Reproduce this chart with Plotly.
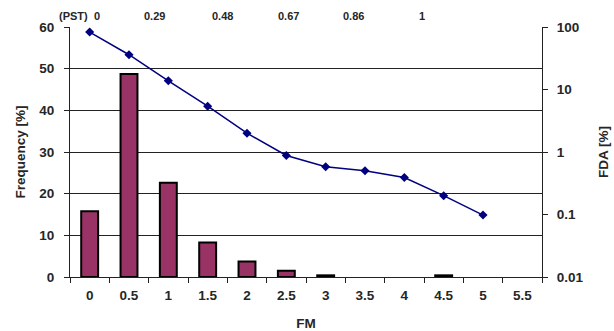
import plotly.graph_objects as go

categories = ["0", "0.5", "1", "1.5", "2", "2.5", "3", "3.5", "4", "4.5", "5", "5.5"]
frequency = [15.8, 48.7, 22.6, 8.3, 3.7, 1.5, 0.4, None, None, 0.4, None, None]
fda_x = ["0", "0.5", "1", "1.5", "2", "2.5", "3", "3.5", "4", "4.5", "5"]
fda = [83, 36, 13.8, 5.4, 2.0, 0.88, 0.58, 0.50, 0.39, 0.20, 0.098]
pst_labels = ["(PST)", "0", "0.29", "0.48", "0.67", "0.86", "1"]
pst_pos = [0.008, 0.057, 0.18, 0.324, 0.462, 0.6, 0.746]

fam = "Liberation Sans, Arial, sans-serif"
txt = "#262626"
tickfont = dict(family=fam, size=13.5, color=txt, weight="bold")
titlefont = dict(family=fam, size=13.5, color=txt, weight="bold")

fig = go.Figure()
fig.add_trace(go.Bar(
    x=categories, y=frequency, width=0.43,
    marker=dict(color="#993366", line=dict(color="#000000", width=2)),
    yaxis="y", showlegend=False,
))
fig.add_trace(go.Scatter(
    x=fda_x, y=fda, mode="lines+markers", yaxis="y2",
    line=dict(color="#000080", width=1.5),
    marker=dict(symbol="diamond", size=7, color="#000080"),
    showlegend=False,
))

for lab, px in zip(pst_labels, pst_pos):
    fig.add_annotation(text=lab, x=px, y=1, xref="paper", yref="paper",
                       xanchor="center", yanchor="bottom", yshift=3,
                       showarrow=False,
                       font=dict(size=11, color=txt, family=fam, weight="bold"))

fig.update_layout(
    width=614, height=331,
    margin=dict(l=70, r=72, t=27, b=54),
    paper_bgcolor="white", plot_bgcolor="white",
    font=dict(family=fam, size=13, color=txt),
    xaxis=dict(
        type="category", categoryorder="array", categoryarray=categories,
        tickson="boundaries", ticks="outside", ticklen=5, tickcolor="#222",
        showgrid=False, showline=True, linecolor="#222", linewidth=1,
        tickfont=tickfont, automargin=False, ticklabelstandoff=6,
        title=dict(text="FM", standoff=16, font=titlefont),
        range=[-0.5, 11.5], zeroline=False,
    ),
    yaxis=dict(
        range=[0, 60], dtick=10, ticks="outside", ticklen=5, tickcolor="#222",
        showgrid=True, gridcolor="#222", gridwidth=1,
        showline=True, linecolor="#222", linewidth=1, zeroline=False,
        tickfont=tickfont, automargin=False, ticklabelstandoff=7,
        title=dict(text="Frequency [%]", standoff=10, font=titlefont),
    ),
    yaxis2=dict(
        type="log", range=[-2, 2], overlaying="y", side="right",
        tickvals=[0.01, 0.1, 1, 10, 100], ticktext=["0.01", "0.1", "1", "10", "100"],
        ticks="outside", ticklen=5, tickcolor="#222", showgrid=False,
        showline=True, linecolor="#222", linewidth=1, zeroline=False,
        tickfont=tickfont, automargin=False, ticklabelstandoff=6,
        title=dict(text="FDA [%]", standoff=16, font=titlefont),
    ),
    bargap=0.57,
)

fig.write_html("out.html", post_script="document.body.style.margin='0';",
               config={"displayModeBar": False})
